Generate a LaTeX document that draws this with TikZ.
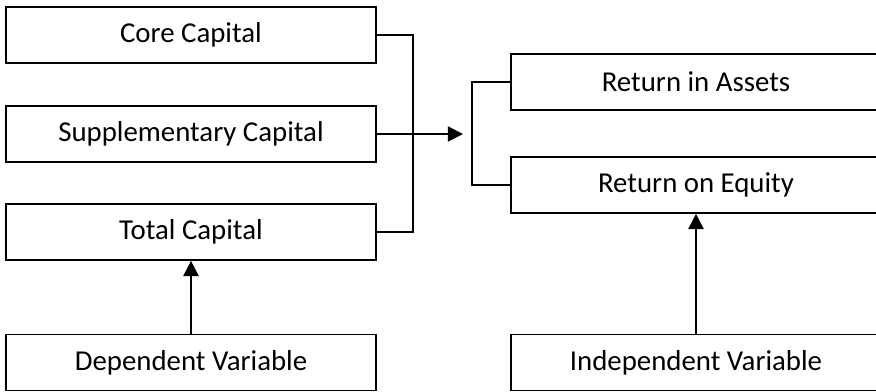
\documentclass[tikz,border=0pt]{standalone}
\usepackage{fontspec}
\setmainfont{Carlito}
\usetikzlibrary{arrows.meta}
\tikzset{
	varbox/.style={
		draw,
		rectangle,
		minimum width=9.25cm,
		minimum height=1.4cm,
		inner sep=0pt,
		font=\fontsize{20.5}{24}\selectfont
	},
	arr/.style={
		-{Triangle[length=0.38cm, width=0.38cm]}
	}
}
\begin{document}
\begin{tikzpicture}[line width=1.2pt, scale=1]
\clip (0, 0) rectangle (21.9, 9.775);
\node[varbox] (core) at (4.775, 8.9) {Core Capital};
\node[varbox] (supp) at (4.775, 6.425) {Supplementary Capital};
\node[varbox] (total) at (4.775, 3.975) {Total Capital};
\node[varbox] (dep) at (4.775, 0.7125) {Dependent Variable};

\node[varbox] (roa) at (17.4, 7.725) {Return in Assets};
\node[varbox] (roe) at (17.4, 5.15) {Return on Equity};
\node[varbox] (indep) at (17.4, 0.7125) {Independent Variable};

\coordinate (tip) at (11.575, 6.425);

\draw (core.east) -- ++(0.9, 0) |- (total.east);
\draw[arr] (supp.east) -- (tip);
\draw (roa.west) -- ++(-0.95, 0) |- (roe.west);

\draw[arr] (dep) -- (total);
\draw[arr] (indep) -- (roe);
\end{tikzpicture}
\end{document}
